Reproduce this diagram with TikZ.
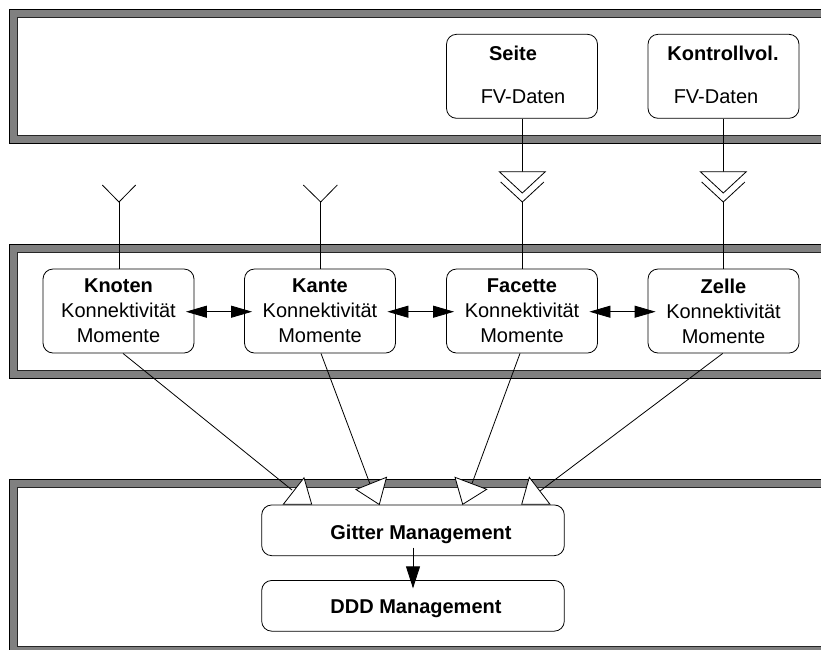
\documentclass[tikz,border=0pt]{standalone}
\usepackage{fontspec}
\setmainfont{Liberation Sans}
\usetikzlibrary{arrows.meta}
\begin{document}
\begin{tikzpicture}[x=1pt,y=-1pt,line width=0.8pt,
  box/.style={draw,rounded corners=10pt,minimum width=151pt,minimum height=84pt,inner sep=0pt,align=center,font=\fontsize{20}{25}\selectfont},
  wide/.style={draw,rounded corners=10pt,minimum width=302.6pt,minimum height=50.7pt,inner sep=0pt},
  txt/.style={inner sep=0pt,font=\fontsize{20}{25}\selectfont},
  outerframe/.style={fill=black!50,draw=black,line width=0.8pt},
  innerframe/.style={fill=white,draw=black!85,line width=0.8pt},
  dbl/.style={{Triangle[length=21pt,width=12pt]}-{Triangle[length=21pt,width=12pt]}},
  opentri/.style={fill=white,draw=black,line width=0.8pt,line join=miter}]
\useasboundingbox (0,0) rectangle (821,649);
\clip (0,0) rectangle (821,649);
% bands
\foreach \t/\b/\it/\ib in {9.5/143/17.5/135, 244/378.3/252.7/370, 479.3/665/487.7/646.7}{
  \path[outerframe] (9.5,\t) rectangle (845,\b);
  \path[innerframe] (17.5,\it) rectangle (840,\ib);
}
% top boxes
\node[box] (sb) at (522,76.3) {};
\node[box] (kb) at (723.5,76.3) {};
\node[txt,anchor=base] (sbt) at (513,60.2) {\textbf{Seite}};
\node[txt,anchor=base] (sbd) at (523,103) {FV-Daten};
\node[txt,anchor=base] (kbt) at (723,60.2) {\textbf{Kontrollvol.}};
\node[txt,anchor=base] (kbd) at (716,103) {FV-Daten};
% middle boxes
\node[box] (kn) at (118.5,311) {\textbf{Knoten}\\Konnektivität\\Momente};
\node[box] (ka) at (320,311) {\textbf{Kante}\\Konnektivität\\Momente};
\node[box] (fa) at (522,311) {\textbf{Facette}\\Konnektivität\\Momente};
\node[box] (ze) at (723.5,311) {\textbf{Zelle}\\Konnektivität\\Momente};
% bottom boxes
\node[wide] (gm) at (413,530.3) {};
\node[wide] (dd) at (413,605.8) {};
\node[txt,anchor=base west] (gmt) at (330,539.5) {\textbf{Gitter Management}};
\node[txt,anchor=base west] (ddt) at (330,613.8) {\textbf{DDD Management}};
% Y shapes
\coordinate (y1) at (119,202);
\coordinate (y2) at (320.7,202);
\draw (kn.north -| y1) -- (y1);
\draw (102.3,185) -- (y1) -- (135.7,185);
\draw (ka.north -| y2) -- (y2);
\draw (303.3,185) -- (y2) -- (337.3,185);
% double chevrons
\coordinate (c1) at (522.3,171.7);
\coordinate (t1) at (522.3,202);
\coordinate (c2) at (723.3,171.7);
\coordinate (t2) at (723.3,202);
\draw (sb.south -| c1) -- (c1);
\draw (t1) -- (fa.north -| t1);
\draw (kb.south -| c2) -- (c2);
\draw (t2) -- (ze.north -| t2);
\foreach \x in {522.3,723.3}{
  \path[opentri] (\x-23,171.7) -- (\x+23,171.7) -- (\x,193) -- cycle;
  \draw[line join=miter] (\x-21.6,182) -- (\x,202) -- (\x+21.6,182);
}
% horizontal double arrows
\draw[dbl] ([xshift=-8.5pt,yshift=-0.7pt]kn.east) -- ([xshift=8pt,yshift=-0.7pt]ka.west);
\draw[dbl] ([xshift=-8.5pt,yshift=-0.7pt]ka.east) -- ([xshift=8pt,yshift=-0.7pt]fa.west);
\draw[dbl] ([xshift=-8.5pt,yshift=-0.7pt]fa.east) -- ([xshift=8pt,yshift=-0.7pt]ze.west);
% lines to Gitter Management
\coordinate (e1) at (292,490);
\coordinate (e2) at (370,484);
\coordinate (e3) at (472,483.5);
\coordinate (e4) at (539,491.7);
\draw ([xshift=4.5pt]kn.south) -- (e1);
\draw ([xshift=1pt]ka.south) -- (e2);
\draw ([xshift=-2pt]fa.south) -- (e3);
\draw ([xshift=-0.8pt]ze.south) -- (e4);
\path[opentri] (283.3,504.3) -- (311.7,504.3) -- (304,477.8) -- cycle;
\path[opentri] (356,489.5) -- (386.5,477.3) -- (379.3,504.5) -- cycle;
\path[opentri] (455,477.3) -- (486.7,489.3) -- (462.7,504.3) -- cycle;
\path[opentri] (529.3,477.3) -- (521.7,504.3) -- (550,504.3) -- cycle;
% Gitter -> DDD
\draw[-{Triangle[length=22pt,width=14pt]}] ([yshift=8.4pt]gm.south) -- ([yshift=-8.3pt]dd.north);
\end{tikzpicture}
\end{document}
